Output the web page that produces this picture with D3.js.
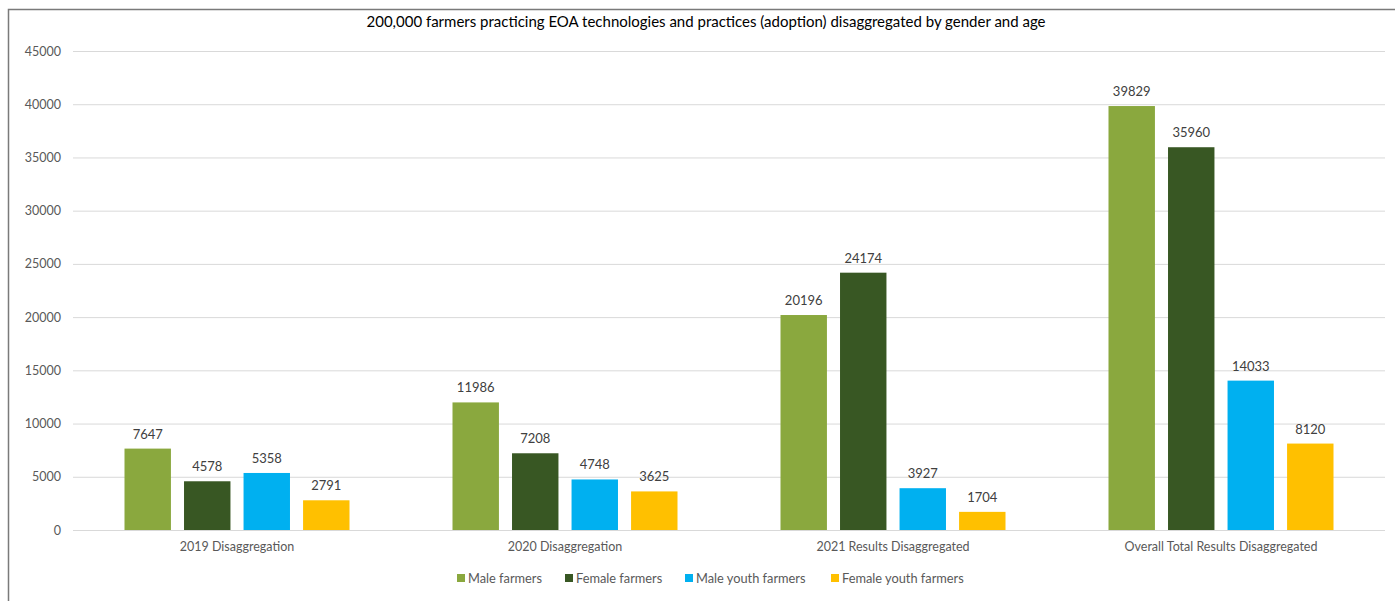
<!DOCTYPE html>
<html>
<head>
<meta charset="utf-8">
<script src="https://cdn.jsdelivr.net/npm/d3@7"></script>
<style>
  html, body { margin: 0; padding: 0; background: #fff; overflow: hidden; }
  svg { display: block; font-family: Lato, "Open Sans", sans-serif; }
</style>
</head>
<body>
<svg id="chart" width="1395" height="601"></svg>
<script>
// Adoption of EOA technologies and practices, by gender and age group
const categories = ["2019 Disaggregation", "2020 Disaggregation", "2021 Results Disaggregated", "Overall Total Results Disaggregated"];
const seriesNames = ["Male farmers", "Female farmers", "Male youth farmers", "Female youth farmers"];
const maleFarmers = [7647, 11986, 20196, 39829];
const femaleFarmers = [4578, 7208, 24174, 35960];
const maleYouthFarmers = [5358, 4748, 3927, 14033];
const femaleYouthFarmers = [2791, 3625, 1704, 8120];
const yTicks = [0, 5000, 10000, 15000, 20000, 25000, 30000, 35000, 40000, 45000];
const seriesColors = ["#8aa83e", "#385723", "#00b0f0", "#ffc000"];
const title = "200,000 farmers practicing EOA technologies and practices (adoption) disaggregated by gender and age";

const seriesValues = [maleFarmers, femaleFarmers, maleYouthFarmers, femaleYouthFarmers];

const svg = d3.select("#chart");
const margin = { left: 73, right: 1385, top: 51, bottom: 530 };

// Outer chart frame: only the top and left edges are in view
svg.append("path")
  .attr("d", "M8.5,601 L8.5,9.5 L1395,9.5")
  .attr("fill", "none")
  .attr("stroke", "#7a7a7a")
  .attr("stroke-width", 1.5);

const x0 = d3.scaleBand()
  .domain(categories)
  .range([margin.left, margin.right])
  .paddingInner(0)
  .paddingOuter(0);

const inner = 225 / 328;
const x1 = d3.scaleBand()
  .domain(seriesNames)
  .range([0, x0.bandwidth() * inner])
  .paddingInner(0.22)
  .paddingOuter(0);

const y = d3.scaleLinear()
  .domain([0, 45000])
  .range([margin.bottom, margin.top]);

// Gridlines and y tick labels
const yAxis = d3.axisLeft(y)
  .tickValues(yTicks)
  .tickSize(-(margin.right - margin.left))
  .tickPadding(12)
  .tickFormat(d3.format("d"));

const gy = svg.append("g")
  .attr("transform", `translate(${margin.left},0)`)
  .call(yAxis);
gy.select(".domain").remove();
gy.selectAll(".tick line")
  .attr("stroke", "#d9d9d9")
  .attr("stroke-width", 1);
gy.selectAll(".tick text")
  .attr("fill", "#595959")
  .attr("font-size", 12.5)
  .attr("font-family", "Lato, sans-serif");

// Category axis labels
const xAxis = d3.axisBottom(x0).tickSize(0).tickPadding(12);
const gx = svg.append("g")
  .attr("transform", `translate(0,${margin.bottom})`)
  .call(xAxis);
gx.select(".domain").remove();
gx.selectAll(".tick text")
  .attr("fill", "#595959")
  .attr("font-size", 12.5)
  .attr("font-family", "Lato, sans-serif");

// Grouped bars
const groupOffset = x0.bandwidth() * (1 - inner) / 2;
const rows = categories.map((c, i) => ({
  category: c,
  values: seriesNames.map((s, j) => ({ series: s, value: seriesValues[j][i], color: seriesColors[j] }))
}));

const groups = svg.append("g").selectAll("g")
  .data(rows)
  .join("g")
  .attr("transform", d => `translate(${x0(d.category) + groupOffset},0)`);

groups.selectAll("rect")
  .data(d => d.values)
  .join("rect")
  .attr("x", d => x1(d.series))
  .attr("y", d => y(d.value))
  .attr("width", x1.bandwidth())
  .attr("height", d => y(0) - y(d.value))
  .attr("fill", d => d.color);

groups.selectAll("text")
  .data(d => d.values)
  .join("text")
  .attr("x", d => x1(d.series) + x1.bandwidth() / 2)
  .attr("y", d => y(d.value) - 10)
  .attr("text-anchor", "middle")
  .attr("fill", "#404040")
  .attr("font-size", 13)
  .text(d => d.value);

// Title
svg.append("text")
  .attr("x", 706)
  .attr("y", 27)
  .attr("text-anchor", "middle")
  .attr("fill", "#000")
  .attr("font-size", 15)
  .text(title);

// Legend
const legendX = [457, 565, 685, 831];
const legend = svg.append("g").selectAll("g")
  .data(seriesNames)
  .join("g")
  .attr("transform", (d, i) => `translate(${legendX[i]},578)`);
legend.append("rect")
  .attr("x", 0).attr("y", -4)
  .attr("width", 8).attr("height", 8)
  .attr("fill", (d, i) => seriesColors[i]);
legend.append("text")
  .attr("x", 11).attr("y", 4.5)
  .attr("fill", "#595959")
  .attr("font-size", 12.8)
  .text(d => d);
</script>
</body>
</html>
